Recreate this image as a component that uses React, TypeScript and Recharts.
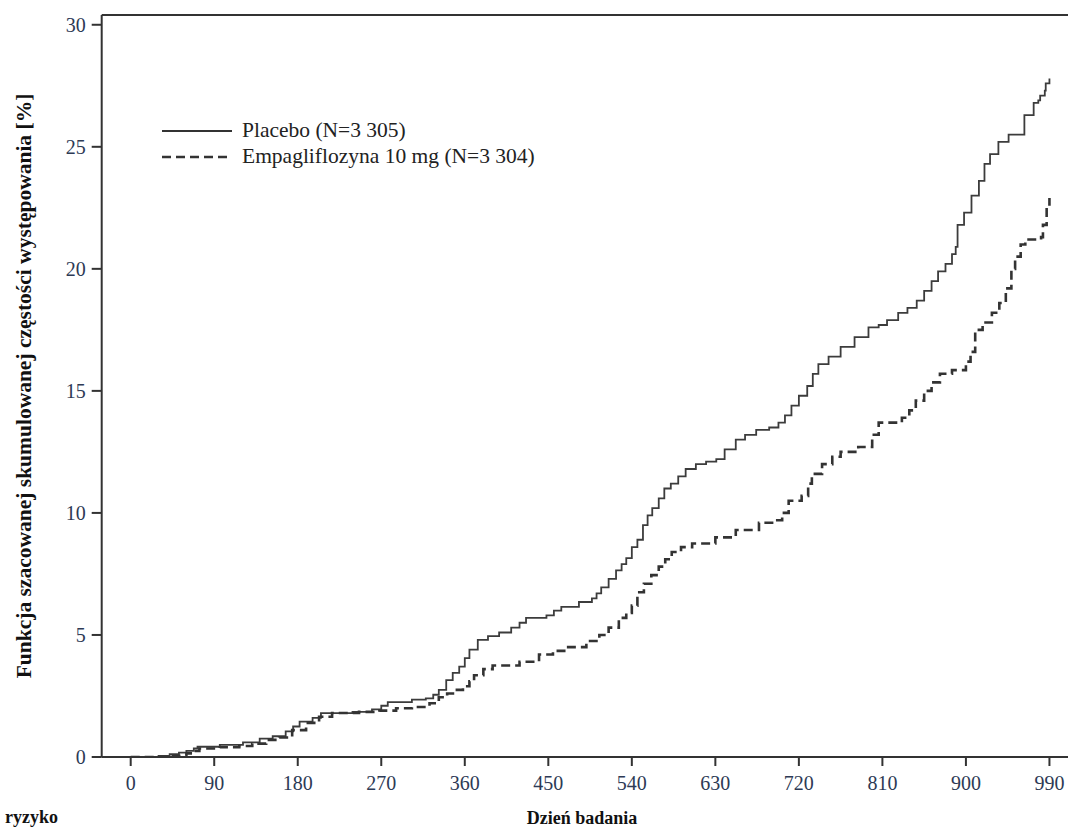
import { LineChart, Line, XAxis, YAxis, ReferenceLine } from "recharts";

const placeboDays = [0, 30, 42, 52, 60, 68, 72, 96, 121, 139, 153, 167, 175, 182, 196, 205, 239, 260, 270, 277, 303, 318, 326, 332, 340, 347, 354, 360, 365, 374, 385, 397, 410, 419, 426, 448, 456, 464, 483, 497, 502, 507, 515, 523, 529, 534, 540, 546, 552, 557, 562, 569, 575, 582, 590, 598, 609, 620, 631, 640, 652, 662, 674, 688, 698, 705, 712, 720, 729, 735, 741, 752, 765, 780, 795, 806, 815, 827, 837, 847, 855, 863, 870, 878, 885, 889, 891, 898, 906, 914, 920, 926, 935, 946, 962, 963, 972, 973, 978, 980, 985, 986, 990];
const placeboPct = [0, 0.05, 0.12, 0.18, 0.25, 0.35, 0.42, 0.5, 0.6, 0.75, 0.85, 1.05, 1.25, 1.45, 1.6, 1.8, 1.85, 1.95, 2.1, 2.25, 2.35, 2.4, 2.55, 2.75, 3.15, 3.45, 3.7, 4.05, 4.4, 4.8, 4.95, 5.1, 5.3, 5.5, 5.7, 5.8, 6.0, 6.15, 6.35, 6.5, 6.7, 6.95, 7.3, 7.65, 7.9, 8.15, 8.6, 8.9, 9.5, 9.9, 10.2, 10.6, 11.0, 11.2, 11.5, 11.8, 12.0, 12.1, 12.2, 12.6, 13.0, 13.2, 13.4, 13.5, 13.7, 14.0, 14.4, 14.8, 15.2, 15.7, 16.1, 16.4, 16.8, 17.2, 17.6, 17.7, 17.9, 18.2, 18.4, 18.7, 19.1, 19.5, 19.9, 20.2, 20.6, 20.9, 21.8, 22.3, 23.0, 23.6, 24.3, 24.7, 25.2, 25.5, 25.5, 26.3, 26.3, 26.8, 26.9, 27.1, 27.3, 27.6, 27.8];

const empaDays = [0, 40, 60, 67, 74, 96, 117, 131, 146, 160, 174, 189, 203, 217, 246, 268, 286, 303, 322, 332, 341, 350, 358, 365, 370, 380, 390, 419, 440, 455, 469, 491, 505, 515, 526, 534, 540, 546, 553, 561, 569, 576, 583, 593, 605, 630, 652, 677, 695, 702, 709, 723, 730, 734, 745, 756, 765, 784, 799, 806, 831, 839, 846, 855, 863, 872, 885, 900, 905, 910, 918, 928, 936, 943, 949, 953, 959, 964, 981, 983, 987, 990];
const empaPct = [0, 0.05, 0.15, 0.25, 0.35, 0.4, 0.45, 0.55, 0.7, 0.8, 1.1, 1.4, 1.65, 1.8, 1.85, 1.9, 2.0, 2.05, 2.2, 2.45, 2.6, 2.75, 2.9, 3.1, 3.35, 3.6, 3.75, 3.9, 4.2, 4.35, 4.5, 4.75, 5.0, 5.3, 5.7, 5.9, 6.2, 6.75, 7.1, 7.45, 7.8, 8.1, 8.4, 8.6, 8.75, 9.0, 9.3, 9.6, 9.7, 10.0, 10.5, 10.7, 11.2, 11.6, 12.0, 12.3, 12.5, 12.7, 13.2, 13.7, 13.9, 14.2, 14.6, 15.0, 15.35, 15.7, 15.85, 16.2, 16.6, 17.5, 17.8, 18.2, 18.6, 19.2, 20.0, 20.5, 21.0, 21.2, 21.3, 21.8, 22.5, 22.9];

const xTicks = [0, 90, 180, 270, 360, 450, 540, 630, 720, 810, 900, 990];
const yTicks = [0, 5, 10, 15, 20, 25, 30];

const seriesNames = ["Placebo (N=3 305)", "Empagliflozyna 10 mg (N=3 304)"];

const placebo = placeboDays.map((day, i) => ({ day, pct: placeboPct[i] }));
const empa = empaDays.map((day, i) => ({ day, pct: empaPct[i] }));

const serif = "'Liberation Serif', 'Times New Roman', serif";
const tickColor = "#2d3a55";
const axisColor = "#333";

function LegendBox() {
  const rows = [
    { name: seriesNames[0], dash: undefined, width: 2 },
    { name: seriesNames[1], dash: "9 5", width: 2.6 },
  ];
  return (
    <div style={{ position: "absolute", left: 160, top: 118, fontFamily: serif, fontSize: 21.5, color: "#222" }}>
      {rows.map((r) => (
        <div key={r.name} style={{ display: "flex", alignItems: "center", height: 26 }}>
          <svg width={82} height={26}>
            <line x1={2} x2={72} y1={13} y2={13} stroke="#333" strokeWidth={r.width} strokeDasharray={r.dash} />
          </svg>
          <span style={{ whiteSpace: "nowrap", lineHeight: 1 }}>{r.name}</span>
        </div>
      ))}
    </div>
  );
}

export default function App() {
  return (
    <div style={{ position: "absolute", left: 0, top: 0, width: 1068, height: 828, overflow: "hidden", background: "#fff" }}>
      <LineChart width={1068} height={828} margin={{ top: 15, right: 0, bottom: 0, left: 0 }}>
        <XAxis
          type="number"
          dataKey="day"
          domain={[-31.25, 1010]}
          ticks={xTicks}
          interval={0}
          allowDataOverflow
          height={71}
          tickSize={9}
          tickMargin={10}
          tick={{ fill: tickColor, fontSize: 20, fontFamily: serif }}
          axisLine={{ stroke: axisColor, strokeWidth: 2 }}
          tickLine={{ stroke: axisColor, strokeWidth: 2 }}
        />
        <YAxis
          type="number"
          domain={[0, 30.4]}
          ticks={yTicks}
          interval={0}
          allowDataOverflow
          width={101.7}
          tickSize={10}
          tickMargin={6}
          tick={{ fill: tickColor, fontSize: 20, fontFamily: serif }}
          axisLine={{ stroke: axisColor, strokeWidth: 2 }}
          tickLine={{ stroke: axisColor, strokeWidth: 2 }}
        />
        <ReferenceLine y={30.4} stroke={axisColor} strokeWidth={2} />
        <Line
          data={placebo}
          dataKey="pct"
          name={seriesNames[0]}
          type="stepAfter"
          stroke="#3c3c3c"
          strokeWidth={1.8}
          dot={false}
          isAnimationActive={false}
        />
        <Line
          data={empa}
          dataKey="pct"
          name={seriesNames[1]}
          type="stepAfter"
          stroke="#333"
          strokeWidth={2.6}
          strokeDasharray="9 5"
          dot={false}
          isAnimationActive={false}
        />
      </LineChart>
      <LegendBox />
      <div
        style={{
          position: "absolute",
          left: 25,
          top: 386,
          transform: "translate(-50%, -50%) rotate(-90deg)",
          whiteSpace: "nowrap",
          fontFamily: serif,
          fontWeight: "bold",
          fontSize: 21.5,
          lineHeight: 1,
          color: "#111",
        }}
      >
        Funkcja szacowanej skumulowanej częstości występowania [%]
      </div>
      <div
        style={{
          position: "absolute",
          left: 582,
          top: 818,
          transform: "translate(-50%, -50%)",
          whiteSpace: "nowrap",
          fontFamily: serif,
          fontWeight: "bold",
          fontSize: 18,
          lineHeight: 1,
          color: "#111",
        }}
      >
        Dzień badania
      </div>
      <div
        style={{
          position: "absolute",
          left: 5,
          top: 808,
          whiteSpace: "nowrap",
          fontFamily: serif,
          fontWeight: "bold",
          fontSize: 18,
          lineHeight: 1,
          color: "#111",
        }}
      >
        ryzyko
      </div>
    </div>
  );
}
